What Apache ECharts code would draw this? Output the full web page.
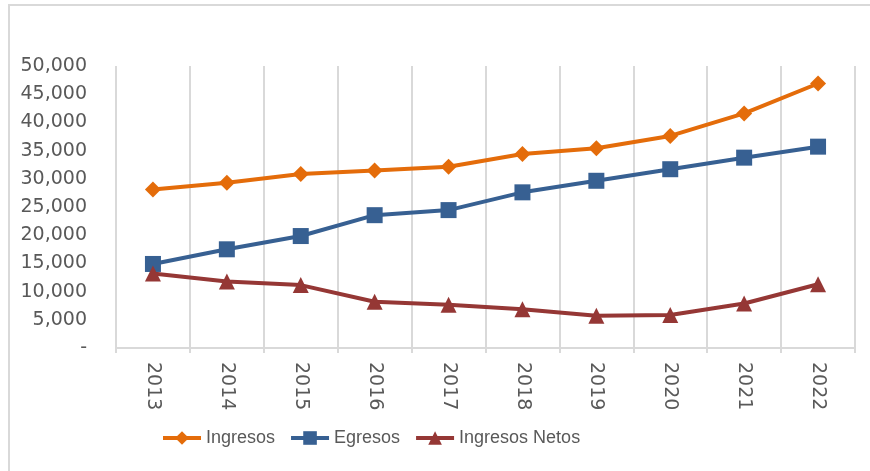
<!DOCTYPE html>
<html>
<head>
<meta charset="utf-8">
<script src="https://cdn.jsdelivr.net/npm/echarts@6/dist/echarts.min.js"></script>
<style>
  html, body { margin: 0; padding: 0; background: #ffffff; }
  #frame {
    position: absolute; left: 8px; top: 4px; width: 880px; height: 480px;
    border-left: 2px solid #d9d9d9; border-top: 2px solid #d9d9d9;
  }
  #chart { position: absolute; left: 0; top: 0; width: 870px; height: 471px; }
</style>
</head>
<body>
<div id="frame"></div>
<div id="chart"></div>
<script>
const YEARS = ["2013", "2014", "2015", "2016", "2017", "2018", "2019", "2020", "2021", "2022"];
const INGRESOS = [28100, 29300, 30850, 31450, 32150, 34400, 35400, 37600, 41600, 46900];
const EGRESOS = [14900, 17500, 19850, 23550, 24450, 27600, 29650, 31700, 33750, 35700];
const INGRESOS_NETOS = [13200, 11800, 11150, 8200, 7650, 6850, 5700, 5850, 7900, 11300];

const COLORS = {
  ingresos: "#E46C0A",
  egresos: "#376092",
  netos: "#953735",
};

const TEXT_COLOR = "#595959";
const GRID_COLOR = "#d9d9d9";

function formatTick(value) {
  if (value === 0) return "-";
  return value.toLocaleString("en-US");
}

const chart = echarts.init(document.getElementById("chart"), null, { renderer: "canvas" });

chart.setOption({
  backgroundColor: "transparent",
  animation: false,
  color: [COLORS.ingresos, COLORS.egresos, COLORS.netos],
  grid: {
    left: 116,
    right: 15,
    top: 66,
    bottom: 123,
    containLabel: false,
  },
  legend: {
    left: 156,
    top: 424,
    itemWidth: 38,
    itemHeight: 17,
    itemGap: 14,
    lineStyle: { width: 4 },
    textStyle: {
      color: TEXT_COLOR,
      fontSize: 18,
      fontFamily: "'Liberation Sans', sans-serif",
    },
    data: ["Ingresos", "Egresos", "Ingresos Netos"],
  },
  xAxis: {
    type: "category",
    boundaryGap: true,
    data: YEARS,
    axisLine: { lineStyle: { color: GRID_COLOR, width: 2 } },
    axisTick: { show: true, length: 5, lineStyle: { color: GRID_COLOR, width: 2 } },
    splitLine: { show: true, lineStyle: { color: GRID_COLOR, width: 2 } },
    axisLabel: {
      rotate: -90,
      margin: 14,
      color: TEXT_COLOR,
      fontSize: 19,
      fontFamily: "'DejaVu Sans', sans-serif",
    },
  },
  yAxis: {
    type: "value",
    min: 0,
    max: 50000,
    interval: 5000,
    axisLine: { show: false },
    axisTick: { show: false },
    splitLine: { show: false },
    axisLabel: {
      margin: 29,
      color: TEXT_COLOR,
      fontSize: 19,
      fontFamily: "'DejaVu Sans', sans-serif",
      formatter: formatTick,
    },
  },
  series: [
    {
      name: "Ingresos",
      type: "line",
      data: INGRESOS,
      symbol: "diamond",
      symbolSize: 16,
      lineStyle: { width: 4 },
      itemStyle: { color: COLORS.ingresos },
    },
    {
      name: "Egresos",
      type: "line",
      data: EGRESOS,
      symbol: "rect",
      symbolSize: 16,
      lineStyle: { width: 4 },
      itemStyle: { color: COLORS.egresos },
    },
    {
      name: "Ingresos Netos",
      type: "line",
      data: INGRESOS_NETOS,
      symbol: "triangle",
      symbolSize: 16,
      lineStyle: { width: 4 },
      itemStyle: { color: COLORS.netos },
    },
  ],
});
</script>
</body>
</html>
